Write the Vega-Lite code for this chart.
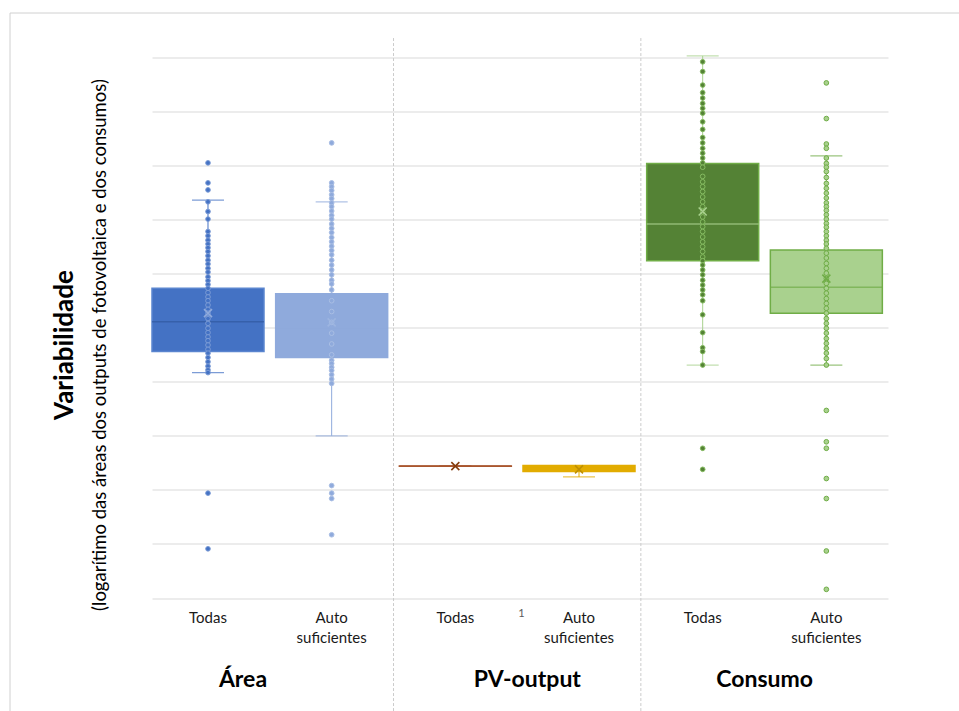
{
  "$schema": "https://vega.github.io/schema/vega-lite/v6.json",
  "width": 736,
  "height": 540.5,
  "autosize": {"type": "none"},
  "padding": {"left": 152, "top": 57.5, "right": 71, "bottom": 113},
  "background": "white",
  "config": {
    "view": {"stroke": null},
    "font": "Lato",
    "axisY": {"grid": true, "labels": false, "ticks": false, "domain": false, "tickCount": 10, "gridColor": "#D9D9D9", "gridWidth": 1.2}
  },
  "datasets": {
    "stats": [
      {"k": "1", "q1": 4.56, "q3": 5.73, "med": 5.11, "lo": 4.17, "hi": 7.36, "mean": 5.27},
      {"k": "2", "q1": 4.45, "q3": 5.63, "med": 5.0, "lo": 3.0, "hi": 7.33, "mean": 5.1},
      {"k": "3", "q1": 2.437, "q3": 2.443, "med": 2.44, "lo": 2.44, "hi": 2.44, "mean": 2.44},
      {"k": "4", "q1": 2.34, "q3": 2.45, "med": 2.4, "lo": 2.24, "hi": 2.45, "mean": 2.38},
      {"k": "5", "q1": 6.24, "q3": 8.04, "med": 6.92, "lo": 4.31, "hi": 10.03, "mean": 7.15},
      {"k": "6", "q1": 5.27, "q3": 6.44, "med": 5.75, "lo": 4.31, "hi": 8.18, "mean": 5.91}
    ],
    "points": [
      {"k": "1", "v": 8.05}, {"k": "1", "v": 7.68}, {"k": "1", "v": 7.55}, {"k": "1", "v": 7.33}, {"k": "1", "v": 7.15}, {"k": "1", "v": 7.01}, {"k": "1", "v": 6.78}, {"k": "1", "v": 6.7}, {"k": "1", "v": 6.62}, {"k": "1", "v": 6.55}, {"k": "1", "v": 6.48}, {"k": "1", "v": 6.41}, {"k": "1", "v": 6.33}, {"k": "1", "v": 6.25}, {"k": "1", "v": 6.18}, {"k": "1", "v": 6.1}, {"k": "1", "v": 6.03}, {"k": "1", "v": 5.94}, {"k": "1", "v": 5.87}, {"k": "1", "v": 5.8}, {"k": "1", "v": 5.73}, {"k": "1", "v": 5.65}, {"k": "1", "v": 5.57}, {"k": "1", "v": 5.5}, {"k": "1", "v": 5.42}, {"k": "1", "v": 5.34}, {"k": "1", "v": 5.27}, {"k": "1", "v": 5.17}, {"k": "1", "v": 5.08}, {"k": "1", "v": 4.99}, {"k": "1", "v": 4.91}, {"k": "1", "v": 4.83}, {"k": "1", "v": 4.76}, {"k": "1", "v": 4.68}, {"k": "1", "v": 4.6}, {"k": "1", "v": 4.53}, {"k": "1", "v": 4.45}, {"k": "1", "v": 4.37}, {"k": "1", "v": 4.29}, {"k": "1", "v": 4.22}, {"k": "1", "v": 4.17}, {"k": "1", "v": 1.94}, {"k": "1", "v": 0.91},
      {"k": "2", "v": 8.42}, {"k": "2", "v": 7.68}, {"k": "2", "v": 7.61}, {"k": "2", "v": 7.54}, {"k": "2", "v": 7.46}, {"k": "2", "v": 7.39}, {"k": "2", "v": 7.31}, {"k": "2", "v": 7.24}, {"k": "2", "v": 7.16}, {"k": "2", "v": 7.08}, {"k": "2", "v": 7.01}, {"k": "2", "v": 6.92}, {"k": "2", "v": 6.84}, {"k": "2", "v": 6.76}, {"k": "2", "v": 6.67}, {"k": "2", "v": 6.59}, {"k": "2", "v": 6.51}, {"k": "2", "v": 6.43}, {"k": "2", "v": 6.35}, {"k": "2", "v": 6.25}, {"k": "2", "v": 6.16}, {"k": "2", "v": 6.07}, {"k": "2", "v": 5.98}, {"k": "2", "v": 5.88}, {"k": "2", "v": 5.81}, {"k": "2", "v": 5.7}, {"k": "2", "v": 5.5}, {"k": "2", "v": 5.3}, {"k": "2", "v": 5.1}, {"k": "2", "v": 4.9}, {"k": "2", "v": 4.7}, {"k": "2", "v": 4.5}, {"k": "2", "v": 4.4}, {"k": "2", "v": 4.34}, {"k": "2", "v": 4.27}, {"k": "2", "v": 4.21}, {"k": "2", "v": 4.13}, {"k": "2", "v": 4.05}, {"k": "2", "v": 3.97}, {"k": "2", "v": 2.08}, {"k": "2", "v": 1.94}, {"k": "2", "v": 1.84}, {"k": "2", "v": 1.17},
      {"k": "5", "v": 9.92}, {"k": "5", "v": 9.74}, {"k": "5", "v": 9.49}, {"k": "5", "v": 9.35}, {"k": "5", "v": 9.25}, {"k": "5", "v": 9.15}, {"k": "5", "v": 9.06}, {"k": "5", "v": 8.97}, {"k": "5", "v": 8.81}, {"k": "5", "v": 8.67}, {"k": "5", "v": 8.52}, {"k": "5", "v": 8.42}, {"k": "5", "v": 8.32}, {"k": "5", "v": 8.23}, {"k": "5", "v": 8.14}, {"k": "5", "v": 8.05}, {"k": "5", "v": 7.97}, {"k": "5", "v": 7.8}, {"k": "5", "v": 7.7}, {"k": "5", "v": 7.61}, {"k": "5", "v": 7.52}, {"k": "5", "v": 7.42}, {"k": "5", "v": 7.33}, {"k": "5", "v": 7.24}, {"k": "5", "v": 7.15}, {"k": "5", "v": 7.05}, {"k": "5", "v": 6.96}, {"k": "5", "v": 6.87}, {"k": "5", "v": 6.78}, {"k": "5", "v": 6.68}, {"k": "5", "v": 6.59}, {"k": "5", "v": 6.5}, {"k": "5", "v": 6.41}, {"k": "5", "v": 6.31}, {"k": "5", "v": 6.24}, {"k": "5", "v": 6.16}, {"k": "5", "v": 6.07}, {"k": "5", "v": 5.98}, {"k": "5", "v": 5.88}, {"k": "5", "v": 5.79}, {"k": "5", "v": 5.7}, {"k": "5", "v": 5.61}, {"k": "5", "v": 5.5}, {"k": "5", "v": 5.24}, {"k": "5", "v": 4.91}, {"k": "5", "v": 4.63}, {"k": "5", "v": 4.56}, {"k": "5", "v": 4.31}, {"k": "5", "v": 2.77}, {"k": "5", "v": 2.38},
      {"k": "6", "v": 9.53}, {"k": "6", "v": 8.87}, {"k": "6", "v": 8.4}, {"k": "6", "v": 8.32}, {"k": "6", "v": 8.14}, {"k": "6", "v": 8.04}, {"k": "6", "v": 7.97}, {"k": "6", "v": 7.89}, {"k": "6", "v": 7.78}, {"k": "6", "v": 7.67}, {"k": "6", "v": 7.58}, {"k": "6", "v": 7.49}, {"k": "6", "v": 7.4}, {"k": "6", "v": 7.31}, {"k": "6", "v": 7.24}, {"k": "6", "v": 7.17}, {"k": "6", "v": 7.09}, {"k": "6", "v": 7.01}, {"k": "6", "v": 6.93}, {"k": "6", "v": 6.86}, {"k": "6", "v": 6.78}, {"k": "6", "v": 6.7}, {"k": "6", "v": 6.62}, {"k": "6", "v": 6.55}, {"k": "6", "v": 6.47}, {"k": "6", "v": 6.38}, {"k": "6", "v": 6.29}, {"k": "6", "v": 6.19}, {"k": "6", "v": 6.1}, {"k": "6", "v": 6.01}, {"k": "6", "v": 5.91}, {"k": "6", "v": 5.82}, {"k": "6", "v": 5.73}, {"k": "6", "v": 5.64}, {"k": "6", "v": 5.54}, {"k": "6", "v": 5.45}, {"k": "6", "v": 5.36}, {"k": "6", "v": 5.27}, {"k": "6", "v": 5.17}, {"k": "6", "v": 5.08}, {"k": "6", "v": 4.99}, {"k": "6", "v": 4.9}, {"k": "6", "v": 4.8}, {"k": "6", "v": 4.71}, {"k": "6", "v": 4.62}, {"k": "6", "v": 4.53}, {"k": "6", "v": 4.43}, {"k": "6", "v": 4.31}, {"k": "6", "v": 3.47}, {"k": "6", "v": 2.89}, {"k": "6", "v": 2.77}, {"k": "6", "v": 2.21}, {"k": "6", "v": 1.84}, {"k": "6", "v": 0.87}, {"k": "6", "v": 0.16}
    ],
    "labels": [
      {"k": "1", "t": "Todas"},
      {"k": "2", "t": "Auto\nsuficientes"},
      {"k": "3", "t": "Todas"},
      {"k": "4", "t": "Auto\nsuficientes"},
      {"k": "5", "t": "Todas"},
      {"k": "6", "t": "Auto\nsuficientes"}
    ]
  },
  "resolve": {"scale": {"x": "independent"}},
  "layer": [
    {
      "encoding": {
        "x": {"field": "k", "type": "nominal", "scale": {"domain": ["1", "2", "3", "4", "5", "6"], "paddingInner": 0.0944, "paddingOuter": 0.02285, "align": 0}, "axis": null}
      },
      "resolve": {"scale": {"color": "independent", "fill": "independent", "stroke": "independent"}},
      "layer": [
        {
          "data": {"name": "stats"},
          "mark": {"type": "rule", "strokeWidth": 1},
          "encoding": {
            "y": {"field": "lo", "type": "quantitative", "scale": {"domain": [0, 10], "nice": false, "zero": false}, "axis": {"title": null}},
            "y2": {"field": "hi"},
            "color": {"field": "k", "type": "nominal", "legend": null, "scale": {"domain": ["1", "2", "3", "4", "5", "6"], "range": ["#4472C4", "#8FAADC", "#A9572F", "#E2AC00", "#A9D18E", "#70AD47"]}}
          }
        },
        {
          "data": {"name": "stats"},
          "mark": {"type": "rect", "strokeWidth": 1.5},
          "encoding": {
            "y": {"field": "q1", "type": "quantitative", "scale": {"domain": [0, 10], "nice": false, "zero": false}, "axis": {"title": null}},
            "y2": {"field": "q3"},
            "fill": {"field": "k", "type": "nominal", "legend": null, "scale": {"domain": ["1", "2", "3", "4", "5", "6"], "range": ["#4472C4", "#8FAADC", "#A9572F", "#E2AC00", "#548235", "#A9D18E"]}},
            "stroke": {"field": "k", "type": "nominal", "legend": null, "scale": {"domain": ["1", "2", "3", "4", "5", "6"], "range": ["#5A85CF", "#8FAADC", "#A9572F", "#E2AC00", "#70AD47", "#70AD47"]}}
          }
        },
        {
          "data": {"name": "stats"},
          "mark": {"type": "tick", "thickness": 1.5, "size": 112},
          "encoding": {
            "y": {"field": "med", "type": "quantitative", "scale": {"domain": [0, 10], "nice": false, "zero": false}, "axis": {"title": null}},
            "color": {"field": "k", "type": "nominal", "legend": null, "scale": {"domain": ["1", "2", "3", "4", "5", "6"], "range": ["#30599F", "#8FAADC", "#A9572F", "#E2AC00", "#A9D18E", "#70AD47"]}}
          }
        },
        {
          "data": {"name": "stats"},
          "mark": {"type": "tick", "thickness": 1.3, "size": 32},
          "encoding": {
            "y": {"field": "hi", "type": "quantitative", "scale": {"domain": [0, 10], "nice": false, "zero": false}, "axis": {"title": null}},
            "color": {"field": "k", "type": "nominal", "legend": null, "scale": {"domain": ["1", "2", "3", "4", "5", "6"], "range": ["#4472C4", "#8FAADC", "#A9572F", "#E2AC00", "#A9D18E", "#70AD47"]}}
          }
        },
        {
          "data": {"name": "stats"},
          "mark": {"type": "tick", "thickness": 1.3, "size": 32},
          "encoding": {
            "y": {"field": "lo", "type": "quantitative", "scale": {"domain": [0, 10], "nice": false, "zero": false}, "axis": {"title": null}},
            "color": {"field": "k", "type": "nominal", "legend": null, "scale": {"domain": ["1", "2", "3", "4", "5", "6"], "range": ["#4472C4", "#8FAADC", "#A9572F", "#E2AC00", "#A9D18E", "#70AD47"]}}
          }
        },
        {
          "data": {"name": "points"},
          "mark": {"type": "point", "shape": "circle", "filled": true, "size": 22, "strokeWidth": 1, "opacity": 1},
          "encoding": {
            "y": {"field": "v", "type": "quantitative", "scale": {"domain": [0, 10], "nice": false, "zero": false}, "axis": {"title": null}},
            "fill": {"field": "k", "type": "nominal", "legend": null, "scale": {"domain": ["1", "2", "3", "4", "5", "6"], "range": ["#4472C4", "#8FAADC", "#A9572F", "#E2AC00", "#548235", "#A9D18E"]}},
            "stroke": {"field": "k", "type": "nominal", "legend": null, "scale": {"domain": ["1", "2", "3", "4", "5", "6"], "range": ["#7C9CD6", "#A9BEE4", "#A9572F", "#E2AC00", "#86BC62", "#70AD47"]}}
          }
        },
        {
          "data": {"name": "stats"},
          "mark": {"type": "point", "shape": "M-1,-1L1,1M-1,1L1,-1", "filled": false, "size": 64, "strokeWidth": 1.6, "opacity": 1},
          "encoding": {
            "y": {"field": "mean", "type": "quantitative", "scale": {"domain": [0, 10], "nice": false, "zero": false}, "axis": {"title": null}},
            "stroke": {"field": "k", "type": "nominal", "legend": null, "scale": {"domain": ["1", "2", "3", "4", "5", "6"], "range": ["#8FAADC", "#9DB5E0", "#843C0C", "#BF9000", "#A9D18E", "#70AD47"]}}
          }
        },
        {
          "data": {"values": [{"k": "3"}, {"k": "5"}]},
          "mark": {"type": "rule", "strokeDash": [3, 2], "color": "#CCCCCC", "strokeWidth": 1, "clip": false},
          "encoding": {
            "x": {"field": "k", "type": "nominal", "bandPosition": -0.052, "scale": {"domain": ["1", "2", "3", "4", "5", "6"], "paddingInner": 0.0944, "paddingOuter": 0.02285, "align": 0}, "axis": null},
            "y": {"datum": 10.36, "type": "quantitative", "scale": {"domain": [0, 10], "nice": false, "zero": false}, "axis": {"title": null}},
            "y2": {"datum": -2.1}
          }
        },
        {
          "data": {"name": "labels"},
          "mark": {"type": "text", "baseline": "top", "align": "center", "lineBreak": "\n", "font": "Lato", "fontSize": 15, "lineHeight": 20, "dy": 13, "color": "#1A1A1A", "clip": false},
          "encoding": {
            "y": {"datum": 0, "type": "quantitative", "scale": {"domain": [0, 10], "nice": false, "zero": false}, "axis": {"title": null}},
            "text": {"field": "t"}
          }
        },
        {
          "data": {"values": [{"k": "3", "t": "1"}]},
          "mark": {"type": "text", "baseline": "top", "align": "center", "font": "Lato", "fontSize": 11, "dx": 66, "dy": 10, "color": "#595959", "clip": false},
          "encoding": {
            "y": {"datum": 0, "type": "quantitative", "scale": {"domain": [0, 10], "nice": false, "zero": false}, "axis": {"title": null}},
            "text": {"field": "t"}
          }
        },
        {
          "data": {"values": [{"k": "1", "t": "Área"}]},
          "mark": {"type": "text", "baseline": "middle", "align": "center", "font": "Lato", "fontSize": 23, "fontWeight": "bold", "dx": 35, "dy": 82, "color": "#000000", "clip": false},
          "encoding": {
            "y": {"datum": 0, "type": "quantitative", "scale": {"domain": [0, 10], "nice": false, "zero": false}, "axis": {"title": null}},
            "text": {"field": "t"}
          }
        },
        {
          "data": {"values": [{"k": "3", "t": "PV-output"}]},
          "mark": {"type": "text", "baseline": "middle", "align": "center", "font": "Lato", "fontSize": 23, "fontWeight": "bold", "dx": 72, "dy": 82, "color": "#000000", "clip": false},
          "encoding": {
            "y": {"datum": 0, "type": "quantitative", "scale": {"domain": [0, 10], "nice": false, "zero": false}, "axis": {"title": null}},
            "text": {"field": "t"}
          }
        },
        {
          "data": {"values": [{"k": "5", "t": "Consumo"}]},
          "mark": {"type": "text", "baseline": "middle", "align": "center", "font": "Lato", "fontSize": 23, "fontWeight": "bold", "dx": 62, "dy": 82, "color": "#000000", "clip": false},
          "encoding": {
            "y": {"datum": 0, "type": "quantitative", "scale": {"domain": [0, 10], "nice": false, "zero": false}, "axis": {"title": null}},
            "text": {"field": "t"}
          }
        }
      ]
    },
    {
      "data": {"values": [{"f": "top"}]},
      "mark": {"type": "rule", "color": "#D0D0D0", "strokeWidth": 1, "clip": false},
      "encoding": {
        "x": {"datum": -0.1929, "type": "quantitative", "scale": {"domain": [0, 1], "nice": false, "zero": false}, "axis": null},
        "x2": {"datum": 1.0965},
        "y": {"datum": 10.823, "type": "quantitative", "scale": {"domain": [0, 10], "nice": false, "zero": false}, "axis": {"title": null}}
      }
    },
    {
      "data": {"values": [{"f": "left"}]},
      "mark": {"type": "rule", "color": "#D0D0D0", "strokeWidth": 1, "clip": false},
      "encoding": {
        "x": {"datum": -0.1929, "type": "quantitative", "scale": {"domain": [0, 1], "nice": false, "zero": false}, "axis": null},
        "y": {"datum": 10.823, "type": "quantitative", "scale": {"domain": [0, 10], "nice": false, "zero": false}, "axis": {"title": null}},
        "y2": {"datum": -2.1}
      }
    },
    {
      "data": {"values": [{"t": "Variabilidade"}]},
      "mark": {"type": "text", "angle": 270, "align": "center", "baseline": "middle", "font": "Lato", "fontSize": 26, "fontWeight": "bold", "color": "#000000", "clip": false},
      "encoding": {
        "x": {"datum": -0.1182, "type": "quantitative", "scale": {"domain": [0, 1], "nice": false, "zero": false}, "axis": null},
        "y": {"datum": 4.68, "type": "quantitative", "scale": {"domain": [0, 10], "nice": false, "zero": false}, "axis": {"title": null}},
        "text": {"field": "t"}
      }
    },
    {
      "data": {"values": [{"t": "(logarítimo das áreas dos outputs de fotovoltaica e dos consumos)"}]},
      "mark": {"type": "text", "angle": 270, "align": "center", "baseline": "middle", "font": "Lato", "fontSize": 18.5, "color": "#000000", "clip": false},
      "encoding": {
        "x": {"datum": -0.0707, "type": "quantitative", "scale": {"domain": [0, 1], "nice": false, "zero": false}, "axis": null},
        "y": {"datum": 4.68, "type": "quantitative", "scale": {"domain": [0, 10], "nice": false, "zero": false}, "axis": {"title": null}},
        "text": {"field": "t"}
      }
    }
  ]
}
